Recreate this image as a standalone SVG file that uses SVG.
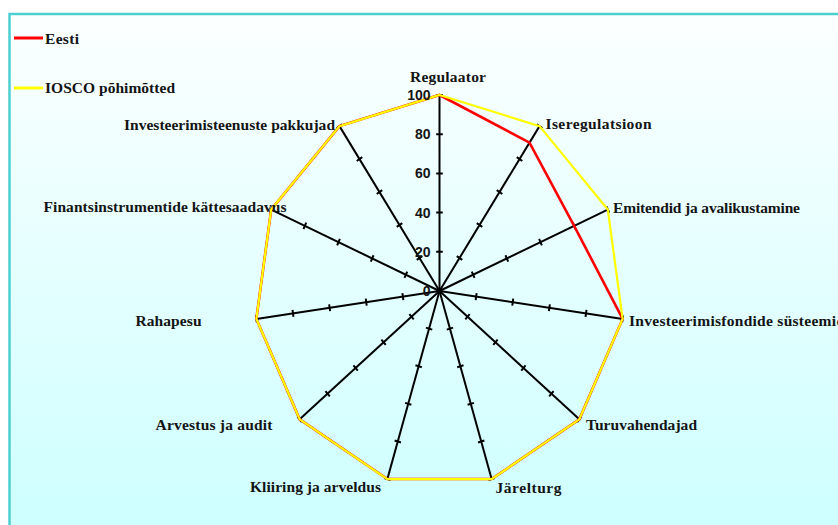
<svg xmlns="http://www.w3.org/2000/svg" xmlns:xlink="http://www.w3.org/1999/xlink" width="838" height="525" viewBox="0 0 838 525">
<style>
.cat{font-family:"Liberation Serif","Times New Roman",serif;font-weight:bold;font-size:15.5px;fill:#141414}
.val{font-family:"Liberation Sans",Arial,sans-serif;font-weight:bold;font-size:14px;fill:#141414;text-anchor:end}
.ax{stroke:#000;stroke-width:2;fill:none;vector-effect:non-scaling-stroke}
.red{stroke:#ff0000;stroke-width:2.6;fill:none;stroke-linejoin:miter;vector-effect:non-scaling-stroke}
.yel{stroke:#ffff00;stroke-width:2.2;fill:none;stroke-linejoin:miter;vector-effect:non-scaling-stroke}
</style>
<defs>
<linearGradient id="bg" x1="0" y1="0" x2="0" y2="1">
<stop offset="0" stop-color="#fcffff"/>
<stop offset="1" stop-color="#c6ffff"/>
</linearGradient>
<g id="axis">
<line class="ax" x1="0" y1="0" x2="0" y2="-196"/>
<path class="ax" d="M-3.5 -39.2H3.5M-3.5 -78.4H3.5M-3.5 -117.6H3.5M-3.5 -156.8H3.5M-3.5 -196H3.5"/>
</g>
</defs>
<rect x="0" y="0" width="838" height="525" fill="#ffffff"/>
<rect id="frame" x="9.5" y="14" width="900" height="600" fill="url(#bg)" stroke="#4ccfcf" stroke-width="2.5"/>
<g id="legend">
<line x1="14" y1="38" x2="43" y2="38" stroke="#ff0000" stroke-width="3"/>
<text class="cat" x="45" y="44" textLength="34">Eesti</text>
<line x1="14" y1="88" x2="43" y2="88" stroke="#ffff00" stroke-width="3"/>
<text class="cat" x="45" y="92.5" textLength="130">IOSCO põhimõtted</text>
</g>
<g id="chart" transform="translate(439.5,291) scale(0.944,1)">
<g id="axes">
<use xlink:href="#axis"/>
<use xlink:href="#axis" transform="rotate(32.7273)"/>
<use xlink:href="#axis" transform="rotate(65.4545)"/>
<use xlink:href="#axis" transform="rotate(98.1818)"/>
<use xlink:href="#axis" transform="rotate(130.9091)"/>
<use xlink:href="#axis" transform="rotate(163.6364)"/>
<use xlink:href="#axis" transform="rotate(196.3636)"/>
<use xlink:href="#axis" transform="rotate(229.0909)"/>
<use xlink:href="#axis" transform="rotate(261.8182)"/>
<use xlink:href="#axis" transform="rotate(294.5455)"/>
<use xlink:href="#axis" transform="rotate(327.2727)"/>
</g>
<polygon id="eesti" class="red" points="0,-196 95.37,-148.40 142.63,-65.14 194.00,27.89 148.13,128.35 55.22,188.06 -55.22,188.06 -148.13,128.35 -194.00,27.89 -178.29,-81.42 -105.97,-164.89"/>
<polygon id="iosco" class="yel" points="0,-196 105.97,-164.89 178.29,-81.42 194.00,27.89 148.13,128.35 55.22,188.06 -55.22,188.06 -148.13,128.35 -194.00,27.89 -178.29,-81.42 -105.97,-164.89"/>
</g>
<g id="scale">
<text class="val" x="430.5" y="296">0</text>
<text class="val" x="430.5" y="256.8">20</text>
<text class="val" x="430.5" y="217.6">40</text>
<text class="val" x="430.5" y="178.4">60</text>
<text class="val" x="430.5" y="139.2">80</text>
<text class="val" x="430.5" y="100">100</text>
</g>
<g id="labels">
<text class="cat" x="410" y="82" textLength="76">Regulaator</text>
<text class="cat" x="545.5" y="129" textLength="106">Iseregulatsioon</text>
<text class="cat" x="613" y="212.5" textLength="187">Emitendid ja avalikustamine</text>
<text class="cat" x="629" y="326" textLength="216">Investeerimisfondide süsteemid</text>
<text class="cat" x="586" y="429.5" textLength="111">Turuvahendajad</text>
<text class="cat" x="495.5" y="492.5" textLength="66">Järelturg</text>
<text class="cat" x="250" y="492" textLength="131">Kliiring ja arveldus</text>
<text class="cat" x="155.5" y="429.5" textLength="117">Arvestus ja audit</text>
<text class="cat" x="135.5" y="325.5" textLength="66">Rahapesu</text>
<text class="cat" x="43.5" y="211.5" textLength="243">Finantsinstrumentide kättesaadavus</text>
<text class="cat" x="124" y="129.5" textLength="211">Investeerimisteenuste pakkujad</text>
</g>
</svg>
